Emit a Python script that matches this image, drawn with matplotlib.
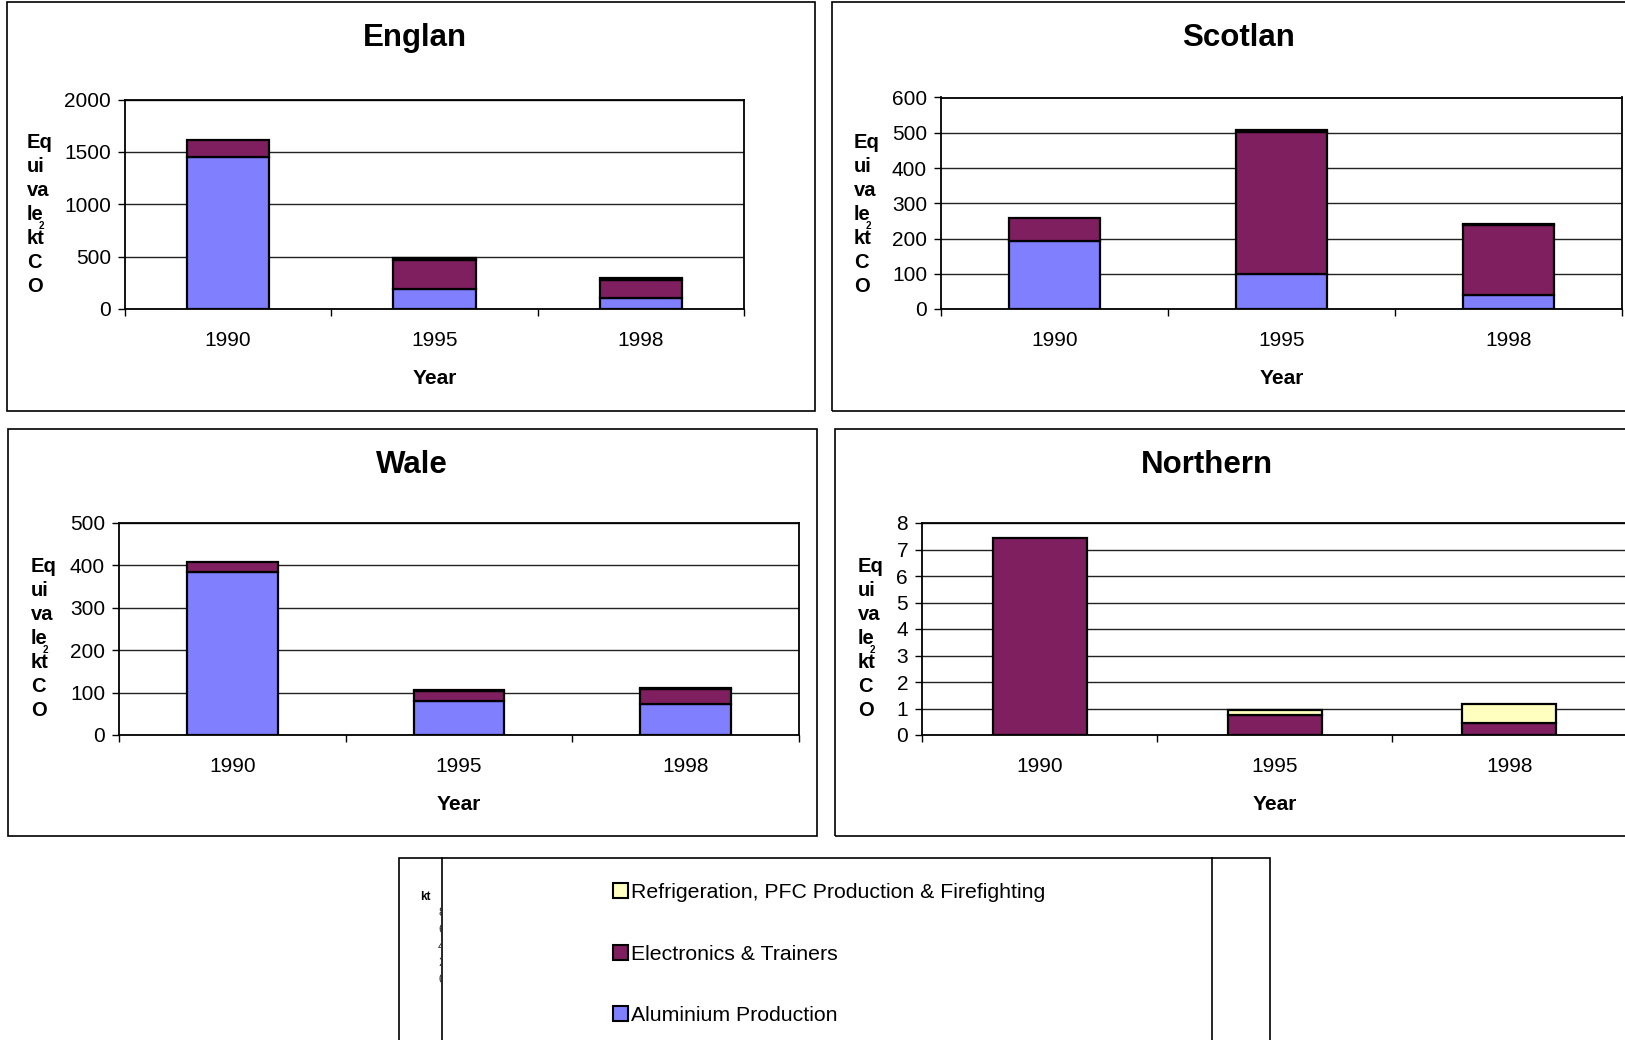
import numpy as np
import matplotlib
matplotlib.use('Agg')
import matplotlib.pyplot as plt
from matplotlib.patches import Rectangle, Patch
from matplotlib.lines import Line2D
from matplotlib.transforms import Bbox

plt.rcParams['font.family'] = ['Liberation Sans', 'DejaVu Sans']

W, H = 1625, 1040

years = ['1990', '1995', '1998']
series = ['Aluminium Production', 'Electronics & Trainers',
          'Refrigeration, PFC Production & Firefighting']
colors = ['#8080FF', '#7F1F5F', '#FFFFC0']

england_aluminium = [1450, 188, 109]
england_electronics = [160, 284, 166]
england_refrigeration = [0, 18, 25]

scotland_aluminium = [192, 100, 40]
scotland_electronics = [65, 403, 197]
scotland_refrigeration = [0, 4, 5]

wales_aluminium = [384, 80, 74]
wales_electronics = [23, 24, 35]
wales_refrigeration = [0, 1, 2]

northern_aluminium = [0, 0, 0]
northern_electronics = [7.44, 0.76, 0.45]
northern_refrigeration = [0, 0.2, 0.72]

ylabel_parts = ['Eq', 'ui', 'va', 'le', 'kt', 'C', 'O']


def fig_rect(x0, y0, x1, y1):
    # pixel box (top-left origin) -> figure fraction [left, bottom, width, height]
    return [x0 / W, 1 - y1 / H, (x1 - x0) / W, (y1 - y0) / H]


def fx(x):
    return x / W


def fy(y):
    return 1 - y / H


def pixel_clip(fig, x0, y0, x1, y1):
    # clip box given in pixels from the top-left corner
    return fig.transFigure.transform_bbox(Bbox([[fx(x0), fy(y1)], [fx(x1), fy(y0)]]))


def border(fig, x0, y0, x1, y1):
    fig.add_artist(Rectangle((fx(x0), fy(y1)), (x1 - x0) / W, (y1 - y0) / H,
                             transform=fig.transFigure, fill=False,
                             edgecolor='black', linewidth=1.2))


def draw_panel(fig, title, stacks, ymax, ystep, box, axbox, title_xy,
               label_x, label_y0, year_y, clip_label=None):
    border(fig, *box)
    ax = fig.add_axes(fig_rect(*axbox))
    x = np.arange(len(years))
    bottom = np.zeros(len(years))
    for vals, c in zip(stacks, colors):
        vals = np.array(vals, dtype=float)
        keep = vals > 0
        ax.bar(x[keep], vals[keep], 0.4, bottom=bottom[keep], color=c,
               edgecolor='black', linewidth=1.6, zorder=3)
        bottom += vals
    ax.set_xlim(-0.5, 2.5)
    ax.set_ylim(0, ymax)
    ax.set_yticks(np.arange(0, ymax + ystep / 2, ystep))
    ax.set_xticks(x)
    ax.set_xticklabels(years)
    ax.set_xticks([-0.5, 0.5, 1.5, 2.5], minor=True)
    ax.tick_params(axis='x', which='major', length=0, pad=16, labelsize=15)
    ax.tick_params(axis='x', which='minor', length=5, width=1, direction='out')
    ax.tick_params(axis='y', length=5, width=1, pad=5, labelsize=15)
    ax.yaxis.grid(True, color='#222222', linewidth=1)
    ax.set_axisbelow(True)
    for s in ax.spines.values():
        s.set_linewidth(1.3)
        s.set_color('black')

    cx = (axbox[0] + axbox[2]) / 2
    fig.text(fx(title_xy[0]), fy(title_xy[1]), title, ha='center', va='center',
             fontsize=22.5, fontweight='bold')
    fig.text(fx(cx), fy(year_y), 'Year', ha='center', va='center',
             fontsize=15, fontweight='bold')

    step = 24.1
    for i, part in enumerate(ylabel_parts):
        t = fig.text(fx(label_x), fy(label_y0 + i * step), part, ha='left',
                     va='center', fontsize=14.5, fontweight='bold')
        if clip_label is not None and part == 'O':
            t.set_clip_on(True)
            t.set_clip_box(pixel_clip(fig, 0, 0, W, clip_label))
    fig.text(fx(label_x + 14), fy(label_y0 + 3.5 * step), '2', ha='center',
             va='center', fontsize=7, fontweight='bold')
    return ax


fig = plt.figure(figsize=(W / 100, H / 100), dpi=100)

draw_panel(fig, 'Englan',
           [england_aluminium, england_electronics, england_refrigeration],
           2000, 500, (7, 2, 815, 411), (125, 99.5, 744, 309), (415, 38),
           27, 142, 378)
draw_panel(fig, 'Scotlan',
           [scotland_aluminium, scotland_electronics, scotland_refrigeration],
           600, 100, (832, 2, 1640, 411), (941, 97.5, 1622, 309), (1239, 38),
           854, 142, 378)
draw_panel(fig, 'Wale',
           [wales_aluminium, wales_electronics, wales_refrigeration],
           500, 100, (8, 429, 817, 836), (119, 523, 799, 735), (412, 465),
           31, 566, 804, clip_label=715.5)
draw_panel(fig, 'Northern',
           [northern_aluminium, northern_electronics, northern_refrigeration],
           8, 1, (835, 429, 1640, 836), (922, 523, 1627, 735), (1207, 465),
           858, 566, 804, clip_label=715.5)

# legend block
border(fig, 399, 858, 1270, 1060)
for xl in (441.5, 1211.5):
    fig.add_artist(Line2D([fx(xl), fx(xl)], [fy(858), 0],
                          transform=fig.transFigure, color='black', linewidth=1.2))
fig.text(fx(425), fy(897), 'kt', ha='center', va='center', fontsize=8.5,
         fontweight='bold')
for i, d in enumerate(['8', '6', '4', '2', '0']):
    t = fig.text(fx(438), fy(913 + i * 16.8), d, ha='left', va='center',
                 fontsize=9, color='#333333')
    t.set_clip_on(True)
    t.set_clip_box(pixel_clip(fig, 0, 0, 442, H))

handles = [Patch(facecolor=c, edgecolor='black', linewidth=1.5, label=s)
           for s, c in zip(series, colors)][::-1]
fig.legend(handles=handles, loc='upper left',
           bbox_to_anchor=(fx(613), fy(883)), frameon=False, fontsize=15.3,
           handlelength=0.72, handleheight=0.72, handletextpad=0.12,
           labelspacing=2.0, borderpad=0, borderaxespad=0)

fig.savefig('out.png', dpi=100)
